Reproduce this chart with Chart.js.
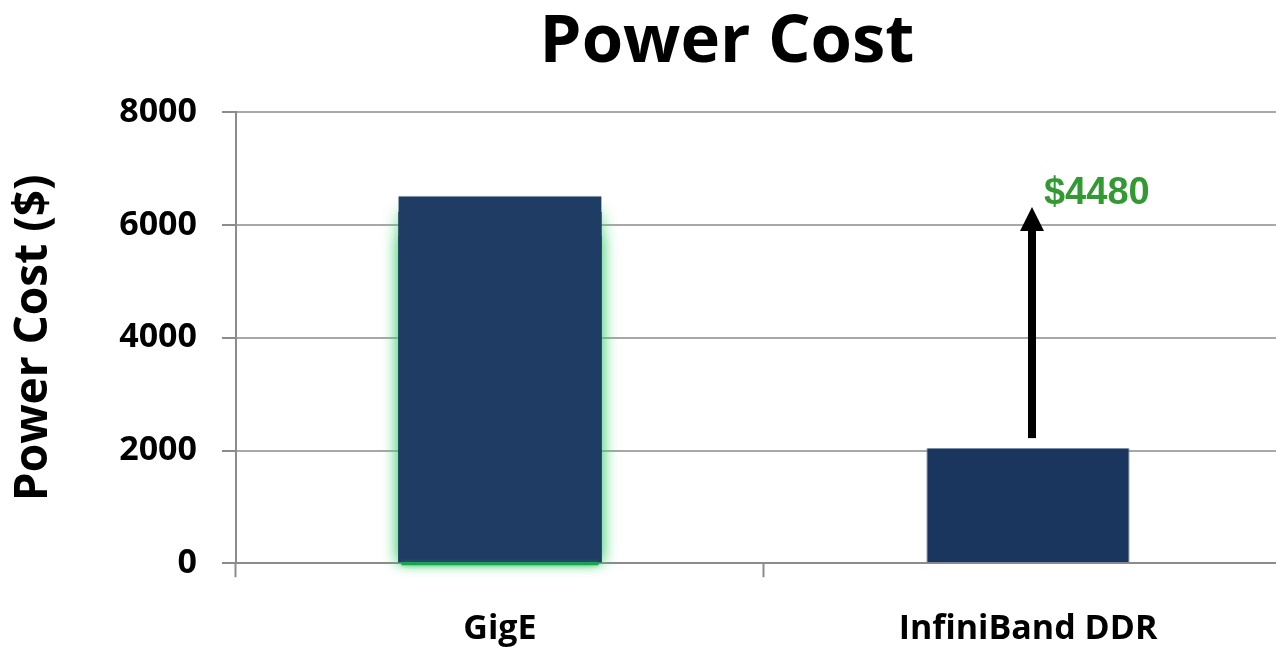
<!DOCTYPE html>
<html>
<head>
<meta charset="utf-8">
<script src="https://cdn.jsdelivr.net/npm/chart.js@4"></script>
<style>
  html, body { margin: 0; padding: 0; background: #fff; overflow: hidden; }
  #wrap { width: 1276px; height: 647px; overflow: hidden; position: relative; }
  canvas { display: block; }
</style>
</head>
<body>
<div id="wrap"><canvas id="chart" width="1454" height="682"></canvas></div>
<script>
// Annual power cost per interconnect
const categories = ['GigE', 'InfiniBand DDR'];
const powerCost = [6520, 2040];
const yTicks = [0, 2000, 4000, 6000, 8000];
// Savings arrow on the InfiniBand column, from/to in dollars
const savingsArrow = [2220, 6320];
const savings = powerCost[0] - powerCost[1];

const barColors = ['#1f3c64', '#1a365e'];
const FONT = "'Open Sans', 'DejaVu Sans', sans-serif";

// Centre the title across the whole canvas rather than the padded area
const titleCenter = {
  id: 'titleCenter',
  afterLayout(chart) {
    const t = chart.titleBlock;
    if (t) { t.left = 0; t.right = chart.width; }
  }
};

// Green glow under the GigE bar, its underline, and the savings arrow
const barEffects = {
  id: 'barEffects',
  beforeDatasetsDraw(chart) {
    const bar = chart.getDatasetMeta(0).data[0];
    const { x, y, base, width } = bar.getProps(['x', 'y', 'base', 'width'], true);
    const ctx = chart.ctx;
    ctx.save();
    ctx.shadowColor = 'rgba(60, 210, 110, 0.7)';
    ctx.shadowBlur = 14;
    ctx.fillStyle = barColors[0];
    ctx.fillRect(x - width / 2, y + 16, width, base - y - 16);
    ctx.fillRect(x - width / 2, y + 40, width, base - y - 40);
    ctx.restore();
  },
  afterDatasetsDraw(chart) {
    const ctx = chart.ctx;
    const bar = chart.getDatasetMeta(0).data[0];
    const { x, base, width } = bar.getProps(['x', 'base', 'width'], true);
    ctx.save();
    ctx.shadowColor = 'rgba(20, 170, 80, 0.6)';
    ctx.shadowBlur = 4;
    ctx.fillStyle = '#13a84b';
    ctx.fillRect(x - width / 2 + 3, base, width - 6, 3);
    ctx.restore();

    const xs = chart.scales.x, ys = chart.scales.y;
    const ax = xs.getPixelForValue(1) + 4;
    const yFrom = ys.getPixelForValue(savingsArrow[0]);
    const yTip = ys.getPixelForValue(savingsArrow[1]);
    const headLen = 24, headHalf = 12, shaft = 8;
    ctx.save();
    ctx.fillStyle = '#000';
    ctx.fillRect(ax - shaft / 2, yTip + headLen - 1, shaft, yFrom - yTip - headLen + 1);
    ctx.beginPath();
    ctx.moveTo(ax, yTip);
    ctx.lineTo(ax + headHalf, yTip + headLen);
    ctx.lineTo(ax - headHalf, yTip + headLen);
    ctx.closePath();
    ctx.fill();
    ctx.fillStyle = '#339933';
    ctx.font = "bold 38px 'Liberation Sans', Arial, sans-serif";
    ctx.textAlign = 'left';
    ctx.textBaseline = 'alphabetic';
    ctx.fillText('$' + savings, ax + 12, yTip - 3);
    ctx.restore();
  }
};

new Chart(document.getElementById('chart'), {
  type: 'bar',
  data: {
    labels: categories,
    datasets: [{
      data: powerCost,
      backgroundColor: barColors,
      borderColor: '#8796ad',
      borderWidth: (c) => c.dataIndex === 0
        ? { top: 1, left: 0, right: 0, bottom: 0 }
        : { top: 0, left: 1, right: 1, bottom: 0 },
      borderSkipped: false,
      categoryPercentage: 1,
      barPercentage: 0.385
    }]
  },
  plugins: [titleCenter, barEffects],
  options: {
    responsive: false,
    animation: false,
    devicePixelRatio: 1,
    layout: { padding: { top: 0, right: 162, bottom: 0, left: 0 } },
    plugins: {
      legend: { display: false },
      tooltip: { enabled: false },
      title: {
        display: true,
        text: 'Power Cost',
        color: '#000',
        font: { family: FONT, size: 67, weight: 'bold' },
        padding: { top: 3, bottom: 29 }
      }
    },
    scales: {
      x: {
        grid: {
          display: true,
          drawOnChartArea: false,
          drawTicks: true,
          tickLength: 14,
          tickWidth: 2,
          tickColor: '#8c8c8c',
          offset: true
        },
        border: { display: true, color: '#8c8c8c', width: 2 },
        ticks: {
          color: '#000',
          padding: 32,
          font: { family: FONT, size: 34, weight: 'bold' }
        }
      },
      y: {
        min: 0,
        max: 8000,
        afterBuildTicks: (s) => { s.ticks = yTicks.map(v => ({ value: v })); },
        grid: {
          color: '#a8a8a8',
          lineWidth: 2,
          drawTicks: true,
          tickLength: 14,
          tickColor: '#8c8c8c'
        },
        border: { display: true, color: '#8c8c8c', width: 2 },
        ticks: {
          color: '#000',
          padding: 25,
          font: { family: FONT, size: 34, weight: 'bold' },
          callback: (v) => String(v)
        },
        title: {
          display: true,
          text: 'Power Cost ($)',
          color: '#000',
          padding: { top: 6, bottom: 33 },
          font: { family: FONT, size: 46, weight: 'bold' }
        }
      }
    }
  }
});
</script>
</body>
</html>
